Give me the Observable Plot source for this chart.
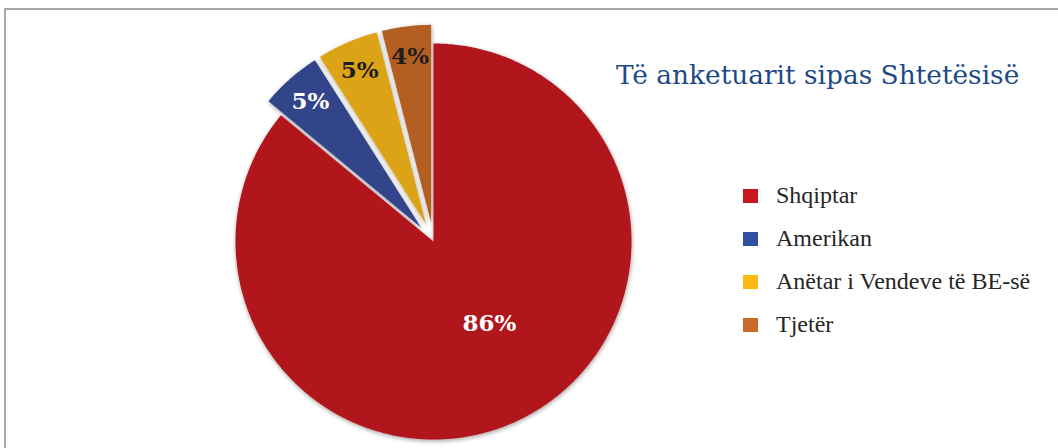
<!DOCTYPE html>
<html><head><meta charset="utf-8">
<script src="https://cdn.jsdelivr.net/npm/d3@7"></script>
<script src="https://cdn.jsdelivr.net/npm/@observablehq/plot@0.6"></script>
<style>
html,body{margin:0;padding:0;background:#fff;overflow:hidden}
#wrap{position:relative;width:1058px;height:448px;overflow:hidden}
#frame{position:absolute;left:4px;top:8px;width:1100px;height:500px;border:2px solid #a8a8a8;box-sizing:border-box}
#chart{position:absolute;left:0;top:0}
#title{position:absolute;left:616px;top:62px;font-family:"DejaVu Serif";font-size:26.4px;line-height:26.4px;color:#1d4a87;white-space:nowrap}
#legend{position:absolute;left:743px;top:174px;font-family:"Liberation Serif";font-size:24px;color:#262626}
.row{display:flex;align-items:center;height:43px;white-space:nowrap}
.sw{width:15px;height:14px;margin-right:18px;flex:none}
</style></head>
<body><div id="wrap"><div id="frame"></div><div id="chart"></div><div id="title"></div><div id="legend"></div></div>
<script>
const categories = ["Shqiptar", "Amerikan", "Anëtar i Vendeve të BE-së", "Tjetër"];
const values = [86, 5, 5, 4];
const labels = ["86%", "5%", "5%", "4%"];
const sliceColors = ["#b1171d", "#30448b", "#dca316", "#b45e22"];
const legendColors = ["#c8191f", "#3150a0", "#fdb913", "#c96a28"];
const labelColors = ["#ffffff", "#ffffff", "#1e1e1e", "#1e1e1e"];
const exploded = [false, true, true, true];
const titleText = "Të anketuarit sipas Shtetësisë";

const W = 1058, H = 448, CX = 433, CY = 241, R = 198;
const EXPLODE = 0.095;

const arcs = d3.pie().sort(null).value(d => d)(values);
const pts = [];
const lab = [];
arcs.forEach((a, i) => {
  const mid = (a.startAngle + a.endAngle) / 2;
  const off = exploded[i] ? EXPLODE : 0;
  const cx = off * Math.sin(mid), cy = off * Math.cos(mid);
  pts.push({i, x: cx, y: cy, c: sliceColors[i]});
  const n = Math.max(4, Math.ceil((a.endAngle - a.startAngle) / 0.01));
  for (let k = 0; k <= n; k++) {
    const t = a.startAngle + (a.endAngle - a.startAngle) * k / n;
    pts.push({i, x: cx + Math.sin(t), y: cy + Math.cos(t), c: sliceColors[i]});
  }
  const la = exploded[i] ? mid : mid - 0.16;
  const lr = exploded[i] ? 0.845 : 0.50;
  lab.push({x: cx + lr * Math.sin(la), y: cy + lr * Math.cos(la), t: labels[i], c: labelColors[i]});
});

const plot = Plot.plot({
  width: W, height: H, margin: 0,
  x: {domain: [-CX / R, (W - CX) / R], axis: null},
  y: {domain: [-(H - CY) / R, CY / R], axis: null},
  color: {type: "identity"},
  marks: [
    Plot.line(pts, {x: "x", y: "y", z: "i", fill: "c", stroke: "none", curve: "linear-closed"}),
    Plot.text(lab, {x: "x", y: "y", text: "t", fill: "c", fontSize: 23, fontWeight: "bold", fontFamily: "DejaVu Serif"})
  ]
});
plot.style.background = "transparent";
const ns = "http://www.w3.org/2000/svg";
const defs = document.createElementNS(ns, "defs");
defs.innerHTML = '<filter id="sh" x="-20%" y="-20%" width="140%" height="140%"><feDropShadow dx="0.5" dy="1.5" stdDeviation="2.2" flood-color="#000" flood-opacity="0.38"/></filter>';
plot.insertBefore(defs, plot.firstChild);
const lg = plot.querySelector('g[aria-label="line"]');
if (lg) lg.setAttribute("filter", "url(#sh)");
document.getElementById("chart").appendChild(plot);

document.getElementById("title").textContent = titleText;
const legend = document.getElementById("legend");
categories.forEach((c, i) => {
  const row = document.createElement("div"); row.className = "row";
  const sw = document.createElement("div"); sw.className = "sw"; sw.style.background = legendColors[i];
  const tx = document.createElement("span"); tx.textContent = c;
  row.appendChild(sw); row.appendChild(tx); legend.appendChild(row);
});
</script></body></html>
